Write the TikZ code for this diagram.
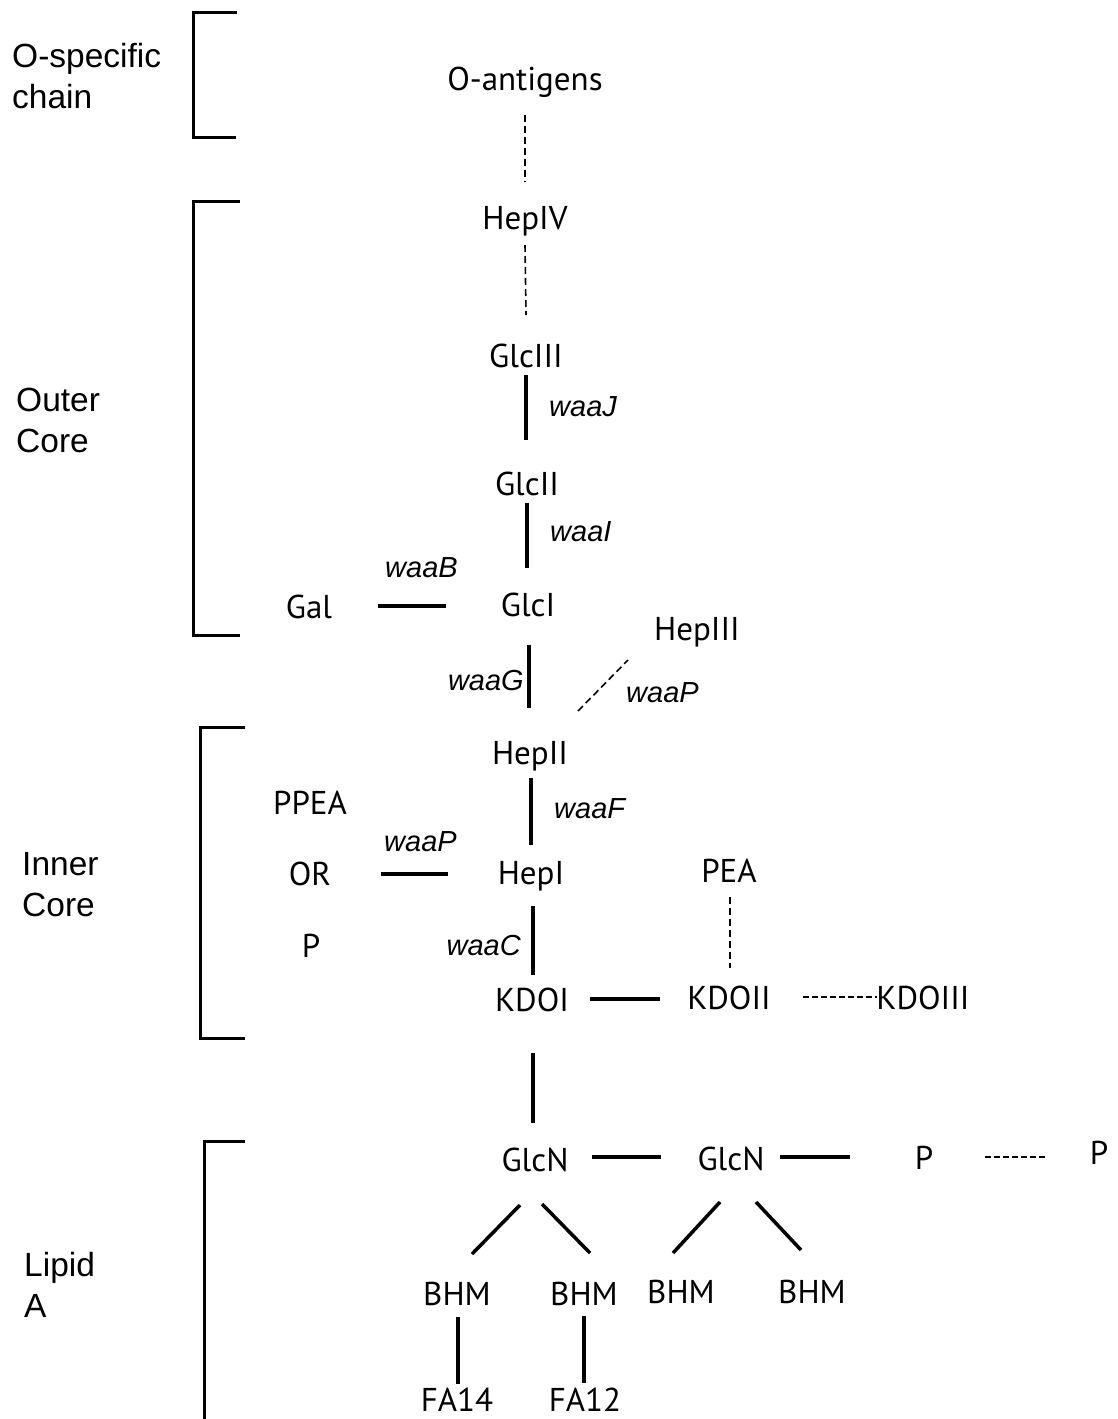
\documentclass[tikz,border=0pt]{standalone}
\usepackage{fontspec}
\setmainfont{Liberation Sans}
\newfontfamily\myr{PT Sans}
\usetikzlibrary{calc}

\begin{document}
\begin{tikzpicture}[x=1pt,y=-1pt,
  sugar/.style={font=\myr\fontsize{33}{40}\selectfont, inner sep=0pt, anchor=base},
  gene/.style={font=\fontsize{29}{35}\selectfont\itshape, inner sep=0pt, anchor=base west},
  region/.style={font=\fontsize{33.5}{41}\selectfont, inner sep=0pt, anchor=base west, align=left},
  bond/.style={line width=3.5pt},
  weak/.style={line width=1.6pt, dash pattern=on 7pt off 4pt},
  bracket/.style={line width=3pt}]
\useasboundingbox (0,0) rectangle (1117,1419);

% region brackets
\draw[bracket] (237,12) -- (193,12) -- (193,137) -- (236,137);
\draw[bracket] (240,201) -- (193,201) -- (193,635) -- (240,635);
\draw[bracket] (245,727) -- (200,727) -- (200,1038) -- (245,1038);
\draw[bracket] (245,1141) -- (204,1141) -- (204,1425);

% region labels (anchored at the baseline of their last line)
\node[region] (rO) at (12,108) {O-specific\\chain};
\node[region] (rOuter) at (16,452) {Outer\\Core};
\node[region] (rInner) at (22,916) {Inner\\Core};
\node[region] (rLipid) at (24,1317) {Lipid\\A};

% sugars and substituents
\node[sugar] (Oant)   at (525,90)   {O-antigens};
\node[sugar] (HepIV)  at (525,229)  {HepIV};
\node[sugar] (GlcIII) at (526,367)  {GlcIII};
\node[sugar] (GlcII)  at (527,495)  {GlcII};
\node[sugar] (GlcI)   at (528,616)  {GlcI};
\node[sugar] (Gal)    at (309,618)  {Gal};
\node[sugar] (HepIII) at (697,640)  {HepIII};
\node[sugar] (HepII)  at (530,764)  {HepII};
\node[sugar] (PPEA)   at (310,814)  {PPEA};
\node[sugar] (OR)     at (310,885)  {OR};
\node[sugar] (Pin)    at (311,957)  {P};
\node[sugar] (HepI)   at (531,884)  {HepI};
\node[sugar] (PEA)    at (729,882)  {PEA};
\node[sugar] (KDOI)   at (532,1011) {KDOI};
\node[sugar] (KDOII)  at (729,1009) {KDOII};
\node[sugar] (KDOIII) at (923,1009) {KDOIII};
\node[sugar] (GlcNa)  at (535,1171) {GlcN};
\node[sugar] (GlcNb)  at (731,1170) {GlcN};
\node[sugar] (Pa)     at (924,1169) {P};
\node[sugar] (Pb)     at (1099,1164) {P};
\node[sugar] (BHMa)   at (457,1305) {BHM};
\node[sugar] (BHMb)   at (584,1305) {BHM};
\node[sugar] (BHMc)   at (681,1303) {BHM};
\node[sugar] (BHMd)   at (812,1303) {BHM};
\node[sugar] (FAa)    at (457,1411) {FA14};
\node[sugar] (FAb)    at (585,1411) {FA12};

% genes
\node[gene] (gJ) at (549,416) {waaJ};
\node[gene] (gI) at (550,541) {waaI};
\node[gene] (gB) at (385,577) {waaB};
\node[gene, anchor=base east] (gG) at (524,690) {waaG};
\node[gene] (gP1) at (626,702) {waaP};
\node[gene] (gF) at (554,818) {waaF};
\node[gene] (gP2) at (384,851) {waaP};
\node[gene, anchor=base east] (gC) at (521,955) {waaC};

% linkages
\draw[weak] ($(Oant.base)+(0,25)$) -- ($(HepIV.base)+(0,-47)$);
\draw[weak] ($(HepIV.base)+(0,16)$) -- ($(GlcIII.base)+(0,-52)$);
\draw[bond] ($(GlcIII.base)+(0,8)$) -- ($(GlcII.base)+(-1,-55)$);
\draw[bond] ($(GlcII.base)+(0,8)$) -- ($(GlcI.base)+(-1,-48)$);
\draw[bond] ($(Gal.base)+(69,-12)$) -- ($(GlcI.base)+(-82,-10)$);
\draw[bond] ($(GlcI.base)+(1,29)$) -- ($(HepII.base)+(-1,-56)$);
\draw[weak] ($(HepII.base)+(48,-53)$) -- ($(HepIII.base)+(-69,20)$);
\draw[bond] ($(HepII.base)+(1,14)$) -- ($(HepI.base)+(0,-39)$);
\draw[bond] ($(OR.base)+(71,-11)$) -- ($(HepI.base)+(-83,-10)$);
\draw[bond] ($(HepI.base)+(2,22)$) -- ($(KDOI.base)+(1,-36)$);
\draw[weak] ($(PEA.base)+(1,15)$) -- ($(KDOII.base)+(1,-41)$);
\draw[bond] ($(KDOI.base)+(58,-12)$) -- ($(KDOII.base)+(-69,-10)$);
\draw[weak, dash pattern=on 6pt off 3pt] ($(KDOII.base)+(74,-12)$) -- ($(KDOIII.base)+(-46,-12)$);
\draw[bond] ($(KDOI.base)+(1,42)$) -- ($(GlcNa.base)+(-2,-48)$);
\draw[bond] ($(GlcNa.base)+(57,-14)$) -- ($(GlcNb.base)+(-70,-13)$);
\draw[bond] ($(GlcNb.base)+(49,-13)$) -- ($(Pa.base)+(-74,-12)$);
\draw[weak, dash pattern=on 6pt off 3pt] ($(Pa.base)+(61,-12)$) -- ($(Pb.base)+(-54,-7)$);
\draw[bond] ($(GlcNa.base)+(-15,34)$) -- ($(BHMa.base)+(15,-51)$);
\draw[bond] ($(GlcNa.base)+(7,33)$) -- ($(BHMb.base)+(6,-52)$);
\draw[bond] ($(GlcNb.base)+(-11,32)$) -- ($(BHMc.base)+(-8,-50)$);
\draw[bond] ($(GlcNb.base)+(25,32)$) -- ($(BHMd.base)+(-11,-53)$);
\draw[bond] ($(BHMa.base)+(1,12)$) -- ($(FAa.base)+(1,-27)$);
\draw[bond] ($(BHMb.base)+(0,11)$) -- ($(FAb.base)+(-1,-28)$);
\end{tikzpicture}
\end{document}
